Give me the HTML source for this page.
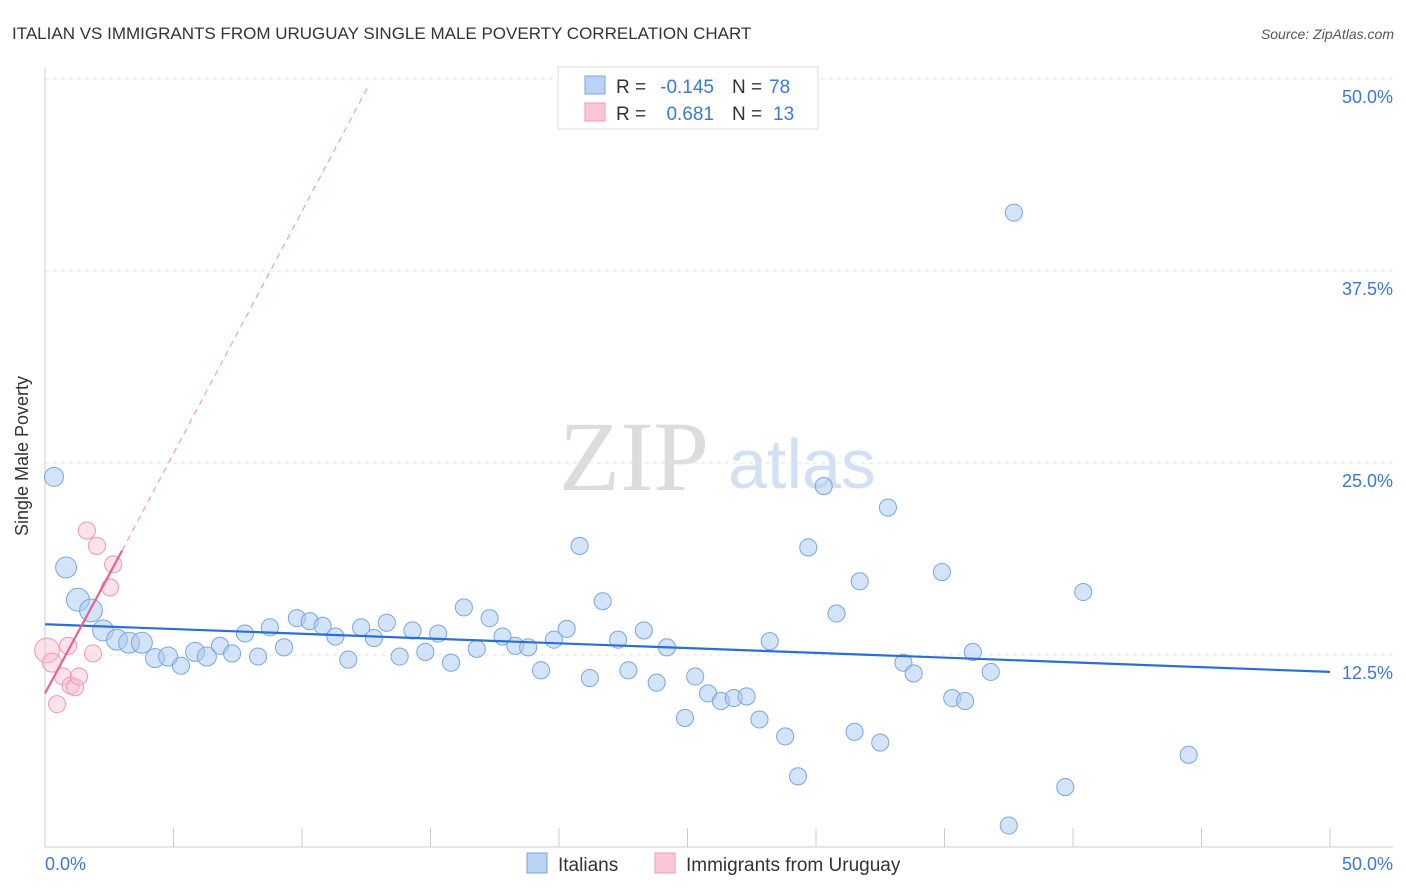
<!DOCTYPE html>
<html><head><meta charset="utf-8"><style>
body{margin:0;background:#fff;font-family:"Liberation Sans",sans-serif;}
svg{display:block}
</style></head><body>
<svg id="chart" width="1406" height="892">
<text x="12" y="39" font-size="17" fill="#333">ITALIAN VS IMMIGRANTS FROM URUGUAY SINGLE MALE POVERTY CORRELATION CHART</text>
<text x="1394" y="39" font-size="14" fill="#555" font-style="italic" text-anchor="end">Source: ZipAtlas.com</text>
<g>
<text x="634" y="490" font-size="100" fill="#dcdcdc" font-family="Liberation Serif,serif" text-anchor="middle">ZIP</text>
<text x="802" y="488" font-size="70" fill="#d2e0f4" text-anchor="middle">atlas</text>
</g>
<g id="grid"></g>
<g id="axes"></g>
<g id="marks"></g>
<text x="28" y="456" font-size="18" fill="#333" transform="rotate(-90 28 456)" text-anchor="middle">Single Male Poverty</text>
<text x="45" y="870" font-size="18" fill="#3b78d8">0.0%</text>
<text x="1393" y="870" font-size="18" fill="#3b78d8" text-anchor="end">50.0%</text>
<g>
<rect x="558" y="67" width="260" height="62" fill="#fff" stroke="#ddd"/>
<rect x="585" y="76" width="20" height="18" fill="#b9d3f5" stroke="#7aa6e0"/>
<rect x="585" y="103" width="20" height="18" fill="#fbc6d6" stroke="#ec9ab4"/>
<text x="616" y="93" font-size="19" fill="#333">R =</text>
<text x="714" y="93" font-size="19" fill="#3b78d8" text-anchor="end">-0.145</text>
<text x="732" y="93" font-size="19" fill="#333">N =</text>
<text x="769" y="93" font-size="19" fill="#3b78d8">78</text>
<text x="616" y="120" font-size="19" fill="#333">R =</text>
<text x="714" y="120" font-size="19" fill="#3b78d8" text-anchor="end">0.681</text>
<text x="732" y="120" font-size="19" fill="#333">N =</text>
<text x="773" y="120" font-size="19" fill="#3b78d8">13</text>
</g>
<g>
<rect x="527" y="853" width="20" height="20" fill="#b9d3f5" stroke="#7aa6e0"/>
<text x="558" y="871" font-size="19" fill="#333">Italians</text>
<rect x="655" y="853" width="20" height="20" fill="#fbc6d6" stroke="#ec9ab4"/>
<text x="686" y="871" font-size="19" fill="#333">Immigrants from Uruguay</text>
</g>
</svg>
<script>
const yTicks=[12.5,25,37.5,50];
const yTickLabels=["12.5%","25.0%","37.5%","50.0%"];
const xTicks=[0,5,10,15,20,25,30,35,40,45,50];
const blueX=[0.35,0.82,1.28,1.79,2.26,2.8,3.27,3.77,4.28,4.79,5.29,5.84,6.3,6.81,7.28,7.78,8.29,8.75,9.3,9.8,10.3,10.8,11.3,11.8,12.3,12.8,13.3,13.8,14.3,14.8,15.3,15.8,16.3,16.8,17.3,17.8,18.3,18.8,19.3,19.8,20.3,20.8,21.2,21.7,22.3,22.7,23.3,23.8,24.2,24.9,25.3,25.8,26.3,26.8,27.3,27.8,28.2,28.8,29.3,29.7,30.3,30.8,31.5,31.7,32.5,32.8,33.4,33.8,34.9,35.3,35.8,36.1,36.8,37.5,37.7,39.7,40.4,44.5];
const blueY=[24.1,18.2,16.1,15.4,14.1,13.5,13.3,13.3,12.3,12.4,11.8,12.7,12.4,13.1,12.6,13.9,12.4,14.3,13.0,14.9,14.7,14.4,13.7,12.2,14.3,13.6,14.6,12.4,14.1,12.7,13.9,12.0,15.6,12.9,14.9,13.7,13.1,13.0,11.5,13.5,14.2,19.6,11.0,16.0,13.5,11.5,14.1,10.7,13.0,8.4,11.1,10.0,9.5,9.7,9.8,8.3,13.4,7.2,4.6,19.5,23.5,15.2,7.5,17.3,6.8,22.1,12.0,11.3,17.9,9.7,9.5,12.7,11.4,1.4,41.3,3.9,16.6,6.0];
const blueR=[10,11,12,12,11,11,11,11,10,10,9,10,10,9,9,9,9,9,9,9,9,9,9,9,9,9,9,9,9,9,9,9,9,9,9,9,9,9,9,9,9,9,9,9,9,9,9,9,9,9,9,9,9,9,9,9,9,9,9,9,9,9,9,9,9,9,9,9,9,9,9,9,9,9,9,9,9,9];
const pinkX=[0.08,0.27,0.47,0.7,0.9,1.0,1.17,1.32,1.63,1.87,2.02,2.53,2.65];
const pinkY=[12.8,12.0,9.3,11.1,13.1,10.5,10.4,11.1,20.6,12.6,19.6,16.9,18.4];
const pinkR=[13,10,9,9,9,9,9,9,9,9,9,9,9];
const blueTrend=[[0,14.5],[50,11.4]];
const pinkTrend=[[0,10.0],[3.0,19.3]];
const pinkDash=[[3.0,19.3],[12.6,49.6]];
const NS="http://www.w3.org/2000/svg";
const sx=v=>45+v/50*1285, sy=v=>847-v/50*768;
function mk(tag,attrs,parent){const e=document.createElementNS(NS,tag);for(const k in attrs)e.setAttribute(k,attrs[k]);document.getElementById(parent).appendChild(e);return e;}
yTicks.forEach((t,i)=>{
 const l=mk('line',{x1:45,x2:1393,y1:sy(t),y2:sy(t),stroke:'#e3e3e3','stroke-dasharray':'4,4'},'grid');
 
 
 const tx=mk('text',{x:1393,y:sy(t)+24,'font-size':18,fill:'#3b78d8','text-anchor':'end'},'grid');
 tx.textContent=yTickLabels[i];
 
 
});
const ax=mk('line',{x1:45,x2:1393,y1:847,y2:847,stroke:'#ccc'},'axes');


const ay=mk('line',{x1:45,x2:45,y1:68,y2:847,stroke:'#ccc'},'axes');


xTicks.forEach(t=>{
 const l=mk('line',{x1:sx(t),x2:sx(t),y1:828,y2:847,stroke:'#ccc'},'axes');
 
 
});
blueX.forEach((x,i)=>{
 const c=mk('circle',{cx:sx(x),cy:sy(blueY[i]),r:blueR[i]*0.95,fill:'rgba(170,202,242,0.5)',stroke:'#7aa6e0','stroke-width':1},'marks');
 
 
});
pinkX.forEach((x,i)=>{
 const c=mk('circle',{cx:sx(x),cy:sy(pinkY[i]),r:pinkR[i]*0.95,fill:'rgba(249,190,208,0.45)',stroke:'#ec9ab4','stroke-width':1},'marks');
 
 
});
const bt=mk('line',{x1:sx(blueTrend[0][0]),y1:sy(blueTrend[0][1]),x2:sx(blueTrend[1][0]),y2:sy(blueTrend[1][1]),stroke:'#2a6fd6','stroke-width':2.2},'marks');


const pt=mk('line',{x1:sx(pinkTrend[0][0]),y1:sy(pinkTrend[0][1]),x2:sx(pinkTrend[1][0]),y2:sy(pinkTrend[1][1]),stroke:'#e5638c','stroke-width':2.2},'marks');


const pd=mk('line',{x1:sx(pinkDash[0][0]),y1:sy(pinkDash[0][1]),x2:sx(pinkDash[1][0]),y2:sy(pinkDash[1][1]),stroke:'#eaa0b8','stroke-width':1.2,'stroke-dasharray':'6,5'},'marks');


</script>
</body></html>
